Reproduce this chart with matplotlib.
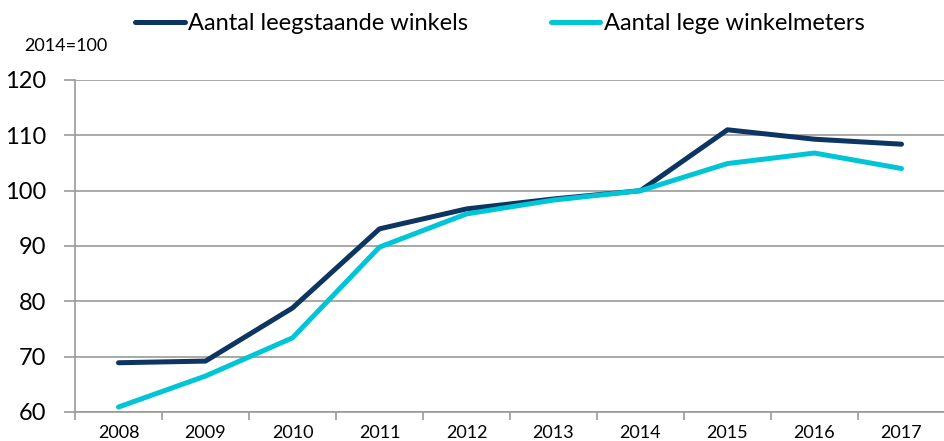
import matplotlib.pyplot as plt
import numpy as np

years = ["2008", "2009", "2010", "2011", "2012", "2013", "2014", "2015", "2016", "2017"]
leegstaande_winkels = [68.9, 69.2, 78.8, 93.1, 96.7, 98.5, 100.0, 111.0, 109.3, 108.4]
lege_winkelmeters = [60.9, 66.5, 73.4, 89.8, 95.8, 98.3, 100.0, 104.9, 106.8, 104.0]

plt.rcParams['font.family'] = ['Lato', 'DejaVu Sans']

fig = plt.figure(figsize=(9.45, 4.41), dpi=100)
ax = fig.add_axes([75 / 945, 1 - 412 / 441, 1 - 75 / 945, (412 - 80) / 441])

x = np.arange(len(years))
ax.plot(x, leegstaande_winkels, color="#0d3561", lw=3.6, solid_capstyle="round",
        label="Aantal leegstaande winkels", zorder=3)
ax.plot(x, lege_winkelmeters, color="#00c5d6", lw=3.6, solid_capstyle="round",
        label="Aantal lege winkelmeters", zorder=3)

ax.set_xlim(-0.5, len(years) - 0.5)
ax.set_ylim(60, 120)
ax.set_yticks(np.arange(60, 121, 10))
ax.grid(axis="y", color="#9a9a9a", lw=1.2)
ax.set_axisbelow(True)

# labels at the centres, tick marks between the years
ax.set_xticks(x)
ax.set_xticklabels(years, fontsize=13)
ax.set_xticks(np.arange(-0.5, len(years)), minor=True)
ax.tick_params(axis="x", which="major", length=0, pad=9)
ax.tick_params(axis="x", which="minor", length=6, color="#9a9a9a", width=1.2, direction="out")
ax.tick_params(axis="y", length=8, color="#9a9a9a", width=1.2, pad=13, labelsize=17)

for s in ["top", "right"]:
    ax.spines[s].set_visible(False)
for s in ["left", "bottom"]:
    ax.spines[s].set_color("#9a9a9a")
    ax.spines[s].set_linewidth(1.2)

fig.text(24 / 945, 1 - 46 / 441, "2014=100", fontsize=13, va="center", ha="left")

fig.legend(loc="center left", bbox_to_anchor=(135 / 945, 1 - 24 / 441), ncol=2, frameon=False,
           fontsize=17, handlelength=2.1, handletextpad=0.15, columnspacing=3.5,
           borderaxespad=0, borderpad=0)

fig.savefig("out.png", dpi=100)
